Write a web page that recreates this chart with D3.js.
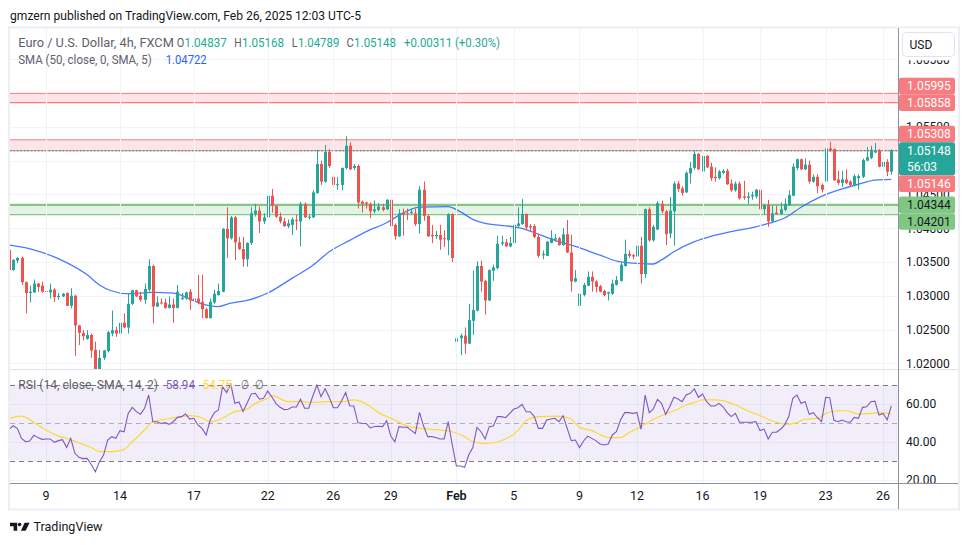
<!DOCTYPE html>
<html><head><meta charset="utf-8">
<script src="https://cdnjs.cloudflare.com/ajax/libs/d3/7.8.5/d3.min.js"></script>
<style>
html,body{margin:0;padding:0;background:#fff;}
svg{display:block;font-family:Roboto,"Noto Sans",Arial,sans-serif;}
</style></head><body>
<svg id="c" width="970" height="545"></svg>
<script>
// ---------- DATA (EUR/USD 4h) ----------
const opens=[
1.0368,1.0338,1.0352,1.0356,1.0320,1.0304,1.0305,1.0318,1.0315,1.0307,
1.0305,1.0309,1.0298,1.0299,1.0304,1.0285,1.0300,1.0256,1.0245,1.0236,
1.0242,1.0220,1.0185,1.0208,1.0218,1.0244,1.0249,1.0244,1.0260,1.0253,
1.0288,1.0308,1.0300,1.0294,1.0309,1.0344,1.0284,1.0290,1.0290,1.0282,
1.0287,1.0282,1.0295,1.0296,1.0306,1.0296,1.0296,1.0291,1.0280,1.0267,
1.0290,1.0301,1.0306,1.0399,1.0385,1.0416,1.0379,1.0369,1.0354,1.0378,
1.0421,1.0426,1.0410,1.0416,1.0448,1.0433,1.0417,1.0410,1.0403,1.0405,
1.0412,1.0410,1.0436,1.0416,1.0416,1.0452,1.0495,1.0469,1.0513,1.0476,
1.0464,1.0464,1.0489,1.0522,1.0489,1.0492,1.0439,1.0438,1.0436,1.0425,
1.0427,1.0431,1.0428,1.0442,1.0405,1.0388,1.0423,1.0422,1.0422,1.0422,
1.0406,1.0457,1.0418,1.0390,1.0388,1.0390,1.0385,1.0382,1.0421,1.0232,
1.0237,1.0241,1.0229,1.0263,1.0278,1.0344,1.0322,1.0293,1.0337,1.0341,
1.0377,1.0379,1.0373,1.0378,1.0403,1.0406,1.0421,1.0403,1.0403,1.0387,
1.0360,1.0359,1.0378,1.0383,1.0385,1.0375,1.0391,1.0364,1.0321,1.0285,
1.0301,1.0315,1.0328,1.0321,1.0314,1.0307,1.0303,1.0303,1.0316,1.0322,
1.0344,1.0362,1.0360,1.0358,1.0374,1.0332,1.0428,1.0382,1.0398,1.0436,
1.0425,1.0392,1.0425,1.0466,1.0459,1.0453,1.0481,1.0489,1.0510,1.0484,
1.0507,1.0491,1.0476,1.0474,1.0482,1.0485,1.0466,1.0456,1.0466,1.0447,
1.0445,1.0447,1.0447,1.0457,1.0428,1.0434,1.0410,1.0423,1.0421,1.0427,
1.0434,1.0448,1.0489,1.0502,1.0487,1.0494,1.0469,1.0476,1.0464,1.0469,
1.0518,1.0517,1.0472,1.0467,1.0472,1.0469,1.0464,1.0474,1.0476,1.0500,
1.0504,1.0512,1.0515,1.0491,1.0498,1.04837];
const highs=[
1.0370,1.0354,1.0357,1.0358,1.0321,1.0315,1.0324,1.0319,1.0321,1.0321,
1.0318,1.0311,1.0304,1.0304,1.0305,1.0311,1.0301,1.0257,1.0249,1.0249,
1.0244,1.0232,1.0220,1.0220,1.0248,1.0278,1.0254,1.0277,1.0274,1.0303,
1.0309,1.0309,1.0306,1.0318,1.0354,1.0346,1.0299,1.0296,1.0296,1.0299,
1.0296,1.0316,1.0304,1.0306,1.0310,1.0304,1.0331,1.0331,1.0282,1.0296,
1.0309,1.0318,1.0400,1.0431,1.0418,1.0418,1.0387,1.0387,1.0379,1.0431,
1.0436,1.0432,1.0422,1.0449,1.0458,1.0434,1.0423,1.0415,1.0413,1.0416,
1.0420,1.0439,1.0438,1.0420,1.0456,1.0516,1.0500,1.0523,1.0517,1.0487,
1.0476,1.0490,1.0536,1.0527,1.0495,1.0494,1.0441,1.0439,1.0438,1.0441,
1.0437,1.0436,1.0443,1.0444,1.0407,1.0428,1.0429,1.0429,1.0428,1.0429,
1.0462,1.0469,1.0420,1.0405,1.0396,1.0405,1.0397,1.0422,1.0422,1.0270,
1.0244,1.0253,1.0288,1.0337,1.0351,1.0352,1.0323,1.0339,1.0346,1.0389,
1.0389,1.0384,1.0387,1.0417,1.0431,1.0443,1.0422,1.0406,1.0406,1.0392,
1.0367,1.0381,1.0397,1.0391,1.0387,1.0400,1.0412,1.0390,1.0338,1.0305,
1.0319,1.0336,1.0336,1.0323,1.0316,1.0309,1.0306,1.0324,1.0329,1.0349,
1.0383,1.0367,1.0362,1.0382,1.0387,1.0429,1.0431,1.0405,1.0440,1.0441,
1.0427,1.0446,1.0469,1.0470,1.0462,1.0484,1.0498,1.0515,1.0511,1.0508,
1.0508,1.0497,1.0490,1.0486,1.0487,1.0488,1.0472,1.0469,1.0469,1.0470,
1.0453,1.0454,1.0458,1.0458,1.0436,1.0442,1.0433,1.0433,1.0438,1.0444,
1.0456,1.0496,1.0503,1.0503,1.0503,1.0500,1.0479,1.0480,1.0466,1.0522,
1.0528,1.0518,1.0485,1.0485,1.0487,1.0471,1.0480,1.0480,1.0503,1.0520,
1.0522,1.0526,1.0517,1.0513,1.0502,1.05168];
const lows=[
1.0336,1.0337,1.0348,1.0316,1.0274,1.0290,1.0304,1.0306,1.0305,1.0284,
1.0296,1.0291,1.0294,1.0298,1.0285,1.0281,1.0211,1.0227,1.0234,1.0235,
1.0208,1.0178,1.0180,1.0205,1.0216,1.0240,1.0239,1.0241,1.0252,1.0244,
1.0286,1.0298,1.0291,1.0288,1.0306,1.0259,1.0283,1.0287,1.0281,1.0281,
1.0260,1.0281,1.0294,1.0294,1.0279,1.0279,1.0287,1.0267,1.0266,1.0266,
1.0288,1.0300,1.0305,1.0356,1.0383,1.0353,1.0368,1.0343,1.0343,1.0375,
1.0417,1.0393,1.0406,1.0401,1.0423,1.0415,1.0407,1.0402,1.0400,1.0390,
1.0397,1.0373,1.0415,1.0413,1.0415,1.0451,1.0464,1.0467,1.0489,1.0461,
1.0457,1.0456,1.0487,1.0486,1.0486,1.0429,1.0423,1.0429,1.0415,1.0422,
1.0425,1.0425,1.0427,1.0402,1.0383,1.0387,1.0389,1.0412,1.0420,1.0403,
1.0392,1.0411,1.0387,1.0378,1.0384,1.0368,1.0372,1.0360,1.0350,1.0210,
1.0212,1.0214,1.0229,1.0242,1.0277,1.0306,1.0272,1.0292,1.0322,1.0339,
1.0374,1.0372,1.0372,1.0375,1.0402,1.0405,1.0397,1.0396,1.0385,1.0356,
1.0354,1.0359,1.0378,1.0380,1.0374,1.0374,1.0363,1.0306,1.0320,1.0283,
1.0299,1.0314,1.0306,1.0305,1.0305,1.0299,1.0293,1.0301,1.0315,1.0321,
1.0343,1.0356,1.0354,1.0357,1.0318,1.0326,1.0380,1.0380,1.0397,1.0422,
1.0375,1.0385,1.0374,1.0454,1.0448,1.0452,1.0466,1.0487,1.0486,1.0482,
1.0489,1.0470,1.0469,1.0472,1.0480,1.0464,1.0454,1.0454,1.0442,1.0442,
1.0436,1.0442,1.0444,1.0427,1.0420,1.0402,1.0408,1.0420,1.0420,1.0425,
1.0433,1.0447,1.0486,1.0486,1.0486,1.0466,1.0467,1.0452,1.0453,1.0462,
1.0513,1.0470,1.0464,1.0461,1.0465,1.0461,1.0462,1.0457,1.0474,1.0499,
1.0502,1.0511,1.0490,1.0489,1.0477,1.04789];
const closes=[
1.0338,1.0353,1.0356,1.0320,1.0304,1.0306,1.0318,1.0313,1.0306,1.0306,
1.0309,1.0298,1.0300,1.0303,1.0285,1.0300,1.0256,1.0245,1.0240,1.0242,
1.0219,1.0188,1.0208,1.0219,1.0246,1.0249,1.0244,1.0260,1.0253,1.0288,
1.0308,1.0299,1.0294,1.0310,1.0344,1.0284,1.0290,1.0289,1.0282,1.0287,
1.0282,1.0306,1.0297,1.0305,1.0293,1.0293,1.0290,1.0280,1.0267,1.0291,
1.0303,1.0307,1.0399,1.0385,1.0416,1.0379,1.0369,1.0354,1.0378,1.0422,
1.0426,1.0410,1.0416,1.0448,1.0433,1.0417,1.0410,1.0403,1.0407,1.0413,
1.0411,1.0436,1.0416,1.0417,1.0453,1.0495,1.0469,1.0513,1.0492,1.0464,
1.0465,1.0489,1.0522,1.0487,1.0492,1.0438,1.0436,1.0436,1.0425,1.0428,
1.0432,1.0427,1.0442,1.0403,1.0388,1.0422,1.0420,1.0421,1.0424,1.0406,
1.0457,1.0418,1.0388,1.0388,1.0390,1.0383,1.0384,1.0421,1.0356,1.0237,
1.0241,1.0229,1.0264,1.0279,1.0344,1.0321,1.0293,1.0338,1.0342,1.0377,
1.0379,1.0373,1.0378,1.0405,1.0407,1.0421,1.0401,1.0401,1.0387,1.0359,
1.0362,1.0380,1.0385,1.0385,1.0375,1.0391,1.0364,1.0321,1.0326,1.0303,
1.0316,1.0328,1.0321,1.0313,1.0306,1.0301,1.0305,1.0318,1.0323,1.0346,
1.0362,1.0359,1.0358,1.0374,1.0332,1.0428,1.0382,1.0402,1.0437,1.0425,
1.0391,1.0426,1.0466,1.0458,1.0452,1.0482,1.0489,1.0510,1.0487,1.0507,
1.0490,1.0474,1.0474,1.0484,1.0485,1.0465,1.0456,1.0466,1.0444,1.0445,
1.0447,1.0449,1.0457,1.0428,1.0434,1.0410,1.0422,1.0421,1.0428,1.0436,
1.0449,1.0491,1.0502,1.0487,1.0494,1.0469,1.0476,1.0462,1.0457,1.0518,
1.0515,1.0471,1.0467,1.0472,1.0467,1.0464,1.0477,1.0477,1.0501,1.0505,
1.0516,1.0515,1.0491,1.0498,1.04837,1.05148];

// SMA(50) line, sampled at candle indices
const smaIdx=[0,6,14,19,22,25,29,35,40,43,47,51,54,58,63,69,74,78,83,87,92,95,100,107,110,113,116,123,126,129,133,138,144,149,153,157,159,162,167,171,176,182,185,189,193,198,203,207,211,215];
const smaVal=[1.0375,1.0368,1.0349,1.0331,1.0316,1.0307,1.0303,1.0305,1.0304,1.0298,1.0288,1.0284,1.0289,1.0293,1.0304,1.0326,1.0345,1.0365,1.0382,1.0395,1.0408,1.0419,1.0431,1.0432,1.0424,1.0413,1.0407,1.0402,1.0398,1.0391,1.0382,1.0373,1.0360,1.0350,1.0348,1.0347,1.0353,1.0365,1.0380,1.0388,1.0395,1.0402,1.0407,1.0415,1.0431,1.0447,1.0458,1.0465,1.0471,1.04722];

// RSI(14), one value per candle
const rsi=[
46.6,48.5,47,41.8,40,40.4,43.4,42.2,41.3,41.5,
41.5,39.7,40.6,41.1,37,41.8,33.9,31.8,31.1,31.2,
28,24.2,29.5,33,40.9,42.7,41.8,45.9,45.3,55,
58.2,55.9,54.5,57.7,64.7,50.6,50.6,49.7,50.1,49.2,
50.6,52.9,53.3,54.7,52,52.4,48.9,47.1,43.6,51.5,
55.4,56.8,69.1,66,70.5,60.3,61,56,60.5,65.3,
65.6,62.5,63,66.8,63.8,60.3,58.2,57,57.2,58.4,
58.4,62.5,57.7,57.7,64.2,70,63.8,68,63.5,58,
58,61.5,66,59,58.8,50,49.8,49.7,47.3,48.1,
48.2,48,51.1,43,40,48,47.7,47.7,46,44.4,
55.5,48.3,42.7,42.7,42.3,41.5,41.5,50.6,38.3,27.2,
27.2,26.5,33,36.9,47.6,45.3,41.5,48,48.3,53.3,
53.3,52.7,55,57.3,58,59.8,55.9,55.9,53.3,47.1,
47.1,51.5,52,52.4,50.6,53.8,47.1,40.6,40.9,36.9,
40.4,43,41.8,40.6,38.8,38.3,38.8,43.6,45.3,51.5,
55.4,55.4,55,55.4,46.6,64.7,55.4,57.3,62.4,60.3,
54.5,58.5,63.5,62.6,61.2,64.7,65.6,67.9,63.5,65.2,
61.2,58.9,58.9,60.3,58.5,55.4,53.3,55,50.3,50.3,
50.3,50.3,50.6,45.9,46.7,41.5,45,45,46.6,48.9,
53.3,63,64.7,60.3,61.2,54.5,55.4,52.7,50.6,63.5,
63.3,51.5,50.6,51.5,50.6,50.3,52.9,52.4,58.2,58.5,
61.2,61.5,54.1,55,51.5,58.94];

// RSI-based MA, sampled at candle indices
const rsiMaIdx=[0,3,4,7,9,12,14,17,20,22,25,28,30,33,35,38,42,44,47,49,51,55,58,60,63,64,68,71,74,77,81,84,87,90,94,97,100,103,107,108,111,113,116,118,121,124,126,129,133,135,137,139,142,144,146,149,151,154,157,160,163,165,167,169,172,174,177,180,183,186,190,192,194,197,199,202,204,207,210,212,215];
const rsiMaVal=[52.4,53.6,52.9,48.9,46.2,43,41.8,39.5,37,34.8,34.8,36,40,46.2,50.6,51.9,53.3,53.8,52.7,50.6,51.5,55.9,57.3,60.3,63,64.4,61.2,61.2,60.8,61.2,61.2,62.1,60,55.4,51.5,48.3,47.1,46.6,45.7,45.3,42.7,40,39.2,39.5,41.5,45.9,51.1,53.3,53.6,53.3,51.9,47.6,45.9,43.9,42.2,42.3,44.8,48,51.9,54.7,57.3,59.4,60.8,62.1,62.1,61.7,59.4,56.4,53.8,51,49.2,50.1,51.9,52.4,55,56.4,56.4,54.7,55,55.4,54.75];

// zones (supply / demand)
const zoneTop=[1.05995,1.05308,1.04344];
const zoneBottom=[1.05858,1.05146,1.04201];
const zoneKind=["res","res","sup"];

// axes
const xTickIdx=[9,27,45,63,79,93,109,123,139,153,169,183,199,213];
const xTickLabels=["9","14","17","22","26","29","Feb","5","9","12","16","19","23","26"];
const priceTicks=[1.020,1.025,1.030,1.035,1.040,1.045,1.050,1.055,1.060,1.065];
const priceTickLabels=["1.02000","1.02500","1.03000","1.03500","1.04000","1.04500","1.05000","1.05500","1.06000","1.06500"];
const rsiTicks=[20,40,60];
const rsiTickLabels=["20.00","40.00","60.00"];
const smaLast=1.04722, rsiLast=58.94, rsiMaLast=54.75, countdown="56:03";

// ---------- LAYOUT ----------
const svg=d3.select("#c");
const PL=10, PR=898, PT=28, PB=369, RB=483, AXR=958;
const UP="#26a69a", DN="#ef5350";
const n=closes.length;
const x=d3.scaleLinear().domain([0,n-1]).range([9.2,891.3]);
const y=d3.scaleLinear().domain([1.02,1.05]).range([363.3,160.6]);
const yr=d3.scaleLinear().domain([30,70]).range([460.7,385]);
const fmt5=d3.format(".5f");

const defs=svg.append("defs");
defs.append("clipPath").attr("id","cm").append("rect").attr("x",PL).attr("y",PT).attr("width",PR-PL).attr("height",PB-PT);
defs.append("clipPath").attr("id","cr").append("rect").attr("x",PL).attr("y",PB).attr("width",PR-PL).attr("height",RB-PB);
defs.append("clipPath").attr("id","am").append("rect").attr("x",PR+1).attr("y",PT).attr("width",AXR-PR-1).attr("height",PB-PT);
defs.append("clipPath").attr("id","ar").append("rect").attr("x",PR+1).attr("y",PB+1).attr("width",AXR-PR-1).attr("height",RB-PB-1);

// header
svg.append("text").attr("x",10).attr("y",19.5).attr("font-size",13).attr("fill","#131722")
  .attr("textLength",351).attr("lengthAdjust","spacingAndGlyphs")
  .text("gmzern published on TradingView.com, Feb 26, 2025 12:03 UTC-5");

// frame
svg.append("rect").attr("x",9).attr("y",27.5).attr("width",AXR-8).attr("height",482).attr("fill","none").attr("stroke","#eceef3").attr("stroke-width",2);

// ---------- main pane ----------
const gm=svg.append("g").attr("clip-path","url(#cm)");
gm.selectAll(".hg").data(priceTicks).join("line")
  .attr("x1",PL).attr("x2",PR).attr("y1",d=>Math.round(y(d))+0.5).attr("y2",d=>Math.round(y(d))+0.5)
  .attr("stroke","#f0f3fa");
svg.selectAll(".vg").data(xTickIdx).join("line")
  .attr("x1",d=>Math.round(x(d))+0.5).attr("x2",d=>Math.round(x(d))+0.5)
  .attr("y1",PT).attr("y2",RB).attr("stroke","#f0f3fa");

// zones
const zi=d3.range(zoneTop.length);
gm.selectAll(".zone").data(zi).join("rect")
  .attr("x",PL).attr("width",PR-PL)
  .attr("y",i=>y(zoneTop[i])).attr("height",i=>y(zoneBottom[i])-y(zoneTop[i]))
  .attr("fill",i=>zoneKind[i]==="res"?"rgba(242,54,69,0.13)":"rgba(76,175,80,0.15)");
gm.selectAll(".ztop").data(zi).join("line")
  .attr("x1",PL).attr("x2",PR).attr("y1",i=>y(zoneTop[i])).attr("y2",i=>y(zoneTop[i]))
  .attr("stroke",i=>zoneKind[i]==="res"?"#f77c80":"#81c784")
  .attr("stroke-width",i=>zoneKind[i]==="res"?1:2.2);
gm.selectAll(".zbot").data(zi).join("line")
  .attr("x1",PL).attr("x2",PR).attr("y1",i=>y(zoneBottom[i])).attr("y2",i=>y(zoneBottom[i]))
  .attr("stroke",i=>zoneKind[i]==="res"?"#f77c80":"#81c784").attr("stroke-width",1.2);

// current price line
const last=closes[n-1];
gm.append("line").attr("x1",PL).attr("x2",PR).attr("y1",y(last)).attr("y2",y(last))
  .attr("stroke",UP).attr("stroke-width",1.2).attr("stroke-dasharray","1.5,2");

// SMA
gm.append("path").datum(d3.zip(smaIdx,smaVal))
  .attr("d",d3.line().x(d=>x(d[0])).y(d=>y(d[1])).curve(d3.curveMonotoneX))
  .attr("fill","none").attr("stroke","#2962ff").attr("stroke-width",1.3).attr("stroke-opacity",0.85);

// candles
const ci=d3.range(n);
const col=i=>closes[i]>=opens[i]?UP:DN;
gm.selectAll(".wick").data(ci).join("line")
  .attr("x1",i=>Math.round(x(i))+0.5).attr("x2",i=>Math.round(x(i))+0.5)
  .attr("y1",i=>y(highs[i])).attr("y2",i=>y(lows[i])).attr("stroke",col).attr("stroke-width",1);
gm.selectAll(".body").data(ci).join("rect")
  .attr("x",i=>Math.round(x(i))-1).attr("width",3)
  .attr("y",i=>y(Math.max(opens[i],closes[i])))
  .attr("height",i=>Math.max(1,Math.abs(y(opens[i])-y(closes[i]))))
  .attr("fill",col);

// legend
const chg=last-opens[n-1];
const leg1=[
 {t:"Euro / U.S. Dollar, 4h, FXCM",x:18.3,w:155.5,c:"#5d606b"},
 {t:"O",x:176.8,w:7.5,c:"#5d606b"},{t:fmt5(opens[n-1]),x:184.5,w:42.2,c:"#22ab94"},
 {t:"H",x:234.3,w:7.4,c:"#5d606b"},{t:fmt5(highs[n-1]),x:241.9,w:42.2,c:"#22ab94"},
 {t:"L",x:291.8,w:5.9,c:"#5d606b"},{t:fmt5(lows[n-1]),x:297.9,w:41.4,c:"#22ab94"},
 {t:"C",x:346.6,w:7.3,c:"#5d606b"},{t:fmt5(last),x:354.1,w:42,c:"#22ab94"},
 {t:(chg>=0?"+":"")+fmt5(chg)+" (+"+d3.format(".2f")(chg/opens[n-1]*100)+"%)",x:404,w:96,c:"#22ab94"}
];
const leg2=[
 {t:"SMA (50, close, 0, SMA, 5)",x:18.3,w:133.4,c:"#5d606b"},
 {t:fmt5(smaLast),x:165.7,w:41,c:"#2962ff"}
];
const legend=(arr,yy)=>svg.append("g").selectAll("text").data(arr).join("text")
  .attr("x",d=>d.x).attr("y",yy).attr("font-size",12.5).attr("fill",d=>d.c)
  .attr("textLength",d=>d.w).attr("lengthAdjust","spacingAndGlyphs").text(d=>d.t);
legend(leg1,46.6);
legend(leg2,63.6);

// ---------- RSI pane ----------
svg.append("line").attr("x1",PL).attr("x2",AXR).attr("y1",PB+0.5).attr("y2",PB+0.5).attr("stroke","#e0e3eb");
const gr=svg.append("g").attr("clip-path","url(#cr)");
gr.selectAll(".rg").data(rsiTicks).join("line")
  .attr("x1",PL).attr("x2",PR).attr("y1",d=>Math.round(yr(d))+0.5).attr("y2",d=>Math.round(yr(d))+0.5).attr("stroke","#f0f3fa");
gr.append("rect").attr("x",PL).attr("width",PR-PL).attr("y",yr(70)).attr("height",yr(30)-yr(70)).attr("fill","rgba(126,87,194,0.1)");
gr.selectAll(".band").data([70,30]).join("line")
  .attr("x1",PL).attr("x2",PR).attr("y1",d=>Math.round(yr(d))+0.5).attr("y2",d=>Math.round(yr(d))+0.5)
  .attr("stroke","#787b86").attr("stroke-dasharray","5,4");
gr.append("line").attr("x1",PL).attr("x2",PR).attr("y1",Math.round(yr(50))+0.5).attr("y2",Math.round(yr(50))+0.5)
  .attr("stroke","rgba(120,123,134,0.55)").attr("stroke-dasharray","5,4");
gr.append("path").datum(d3.zip(rsiMaIdx,rsiMaVal))
  .attr("d",d3.line().x(d=>x(d[0])).y(d=>yr(d[1])).curve(d3.curveMonotoneX))
  .attr("fill","none").attr("stroke","#fdd835").attr("stroke-width",1.2);
gr.append("path").datum(rsi)
  .attr("d",d3.line().x((d,i)=>x(i)).y(d=>yr(d)))
  .attr("fill","none").attr("stroke","#7e57c2").attr("stroke-width",1.1);

const leg3=[
 {t:"RSI (14, close, SMA, 14, 2)",x:18.3,w:139.7,c:"#5d606b"},
 {t:d3.format(".2f")(rsiLast),x:165.7,w:29.3,c:"#7e57c2"},
 {t:d3.format(".2f")(rsiMaLast),x:202.7,w:29,c:"#fdd835"},
 {t:"\u2205",x:240.7,w:7.6,c:"#5d606b"},
 {t:"\u2205",x:255,w:8.3,c:"#5d606b"}
];
legend(leg3,389.4);

// ---------- x axis ----------
svg.append("line").attr("x1",PL).attr("x2",AXR).attr("y1",RB+0.5).attr("y2",RB+0.5).attr("stroke","#8f929b");
svg.selectAll(".xl").data(xTickIdx).join("text")
  .attr("x",d=>x(d)).attr("y",500.3).attr("text-anchor","middle").attr("font-size",12.5)
  .attr("font-weight",(d,i)=>xTickLabels[i]==="Feb"?600:400)
  .attr("fill","#131722").text((d,i)=>xTickLabels[i]);

// ---------- right axis ----------
svg.append("line").attr("x1",PR+0.5).attr("x2",PR+0.5).attr("y1",PT).attr("y2",509).attr("stroke","#8f929b");

// price labels (zones + current price), stacked without overlap
const LH=16.6;
const cur={p:closes[n-1],bg:UP,fg:"#fff",h:33,lines:[fmt5(closes[n-1]),countdown]};
const zl=[];
zi.forEach(i=>{
  const bg=zoneKind[i]==="res"?"#f77c80":"#81c784", fg=zoneKind[i]==="res"?"#fff":"#131722";
  zl.push({p:zoneTop[i],bg,fg,h:LH,lines:[fmt5(zoneTop[i])]});
  zl.push({p:zoneBottom[i],bg,fg,h:LH,lines:[fmt5(zoneBottom[i])]});
});
cur.top=y(cur.p)-8.3;
const above=zl.filter(d=>d.p>cur.p).sort((a,b)=>a.p-b.p);
const below=zl.filter(d=>d.p<=cur.p).sort((a,b)=>b.p-a.p);
let edge=cur.top;
above.forEach(d=>{const c=Math.min(y(d.p),edge-LH/2);d.top=c-LH/2;edge=d.top;});
edge=cur.top+cur.h;
below.forEach(d=>{const c=Math.max(y(d.p),edge+LH/2);d.top=c-LH/2;edge=d.top+LH;});
const allL=[...above,cur,...below];

// tick labels: skip the ones completely hidden under the price labels
const covered=v=>allL.some(d=>d.top<=v&&d.top+d.h>=v);
const hidden=v=>covered(y(v)-4)&&covered(y(v)+4)&&covered(y(v));
const tickIdx=d3.range(priceTicks.length).filter(i=>!hidden(priceTicks[i]));
svg.append("g").attr("clip-path","url(#am)").selectAll("text").data(tickIdx).join("text")
  .attr("x",906).attr("y",i=>y(priceTicks[i])+4.4).attr("font-size",12).attr("fill","#131722")
  .text(i=>priceTickLabels[i]);
svg.append("g").attr("clip-path","url(#ar)").selectAll("text").data(rsiTicks).join("text")
  .attr("x",906).attr("y",d=>yr(d)+4.4).attr("font-size",12).attr("fill","#131722")
  .text((d,i)=>rsiTickLabels[i]);

// USD button (with white backing strip)
svg.append("rect").attr("x",PR+1).attr("y",PT).attr("width",AXR-PR-1).attr("height",32.3).attr("fill","#fff");
svg.append("rect").attr("x",902.5).attr("y",32.5).attr("width",52).attr("height",24).attr("rx",4)
  .attr("fill","#fff").attr("stroke","#e0e3eb");
svg.append("text").attr("x",909.5).attr("y",49).attr("font-size",12).attr("fill","#131722").text("USD");

const gl=svg.append("g");
gl.selectAll("rect").data(allL).join("rect")
  .attr("x",PR+1).attr("y",d=>d.top).attr("width",56).attr("height",d=>d.h).attr("rx",2).attr("fill",d=>d.bg);
allL.forEach(d=>{
  gl.selectAll(null).data(d.lines).join("text")
    .attr("x",907).attr("y",(t,k)=>d.top+12.4+k*16).attr("font-size",12).attr("fill",d.fg).text(t=>t);
});

// ---------- TradingView logo ----------
const lg=svg.append("g").attr("fill","#131722");
lg.append("path").attr("d","M10,522.7H17.2V530.8H13.6V526.3H10Z");
lg.append("circle").attr("cx",19.6).attr("cy",524.5).attr("r",1.8);
lg.append("path").attr("d","M24.6,522.7H29.6L25.6,530.8H20.9Z");
svg.append("text").attr("x",33.5).attr("y",531).attr("font-size",13).attr("fill","#131722")
  .attr("textLength",69).attr("lengthAdjust","spacingAndGlyphs").text("TradingView");
</script>
</body></html>
